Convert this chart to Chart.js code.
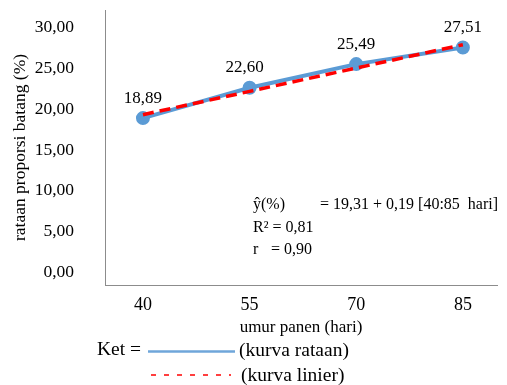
<!DOCTYPE html>
<html><head><meta charset="utf-8">
<script src="https://cdn.jsdelivr.net/npm/chart.js@4/dist/chart.umd.min.js"></script>
<style>html,body{margin:0;padding:0;background:#fff}#wrap{width:507px;height:385px}</style>
</head><body><div id="wrap"><canvas id="c" width="507" height="385"></canvas></div>
<script>
const categories = [40, 55, 70, 85];
const rataan = [18.89, 22.60, 25.49, 27.51];
const linier = [19.31, 22.16, 25.01, 27.86];
const rataanLabels = ["18,89", "22,60", "25,49", "27,51"];
const yTicks = [0, 5, 10, 15, 20, 25, 30];
const eqLines = ["ŷ(%)", "= 19,31 + 0,19 [40:85  hari]", "R² = 0,81", "r", "= 0,90"];
const legendTexts = ["Ket =", "(kurva rataan)", "(kurva linier)"];

const serif = "'Liberation Serif','Times New Roman',serif";
const fmt = v => v.toFixed(2).replace('.', ',');

const overlay = {
  id: 'overlay',
  afterDatasetsDraw(chart) {
    const ctx = chart.ctx;
    ctx.save();
    ctx.fillStyle = '#000';
    ctx.textBaseline = 'middle';
    ctx.font = '17px ' + serif;
    ctx.textAlign = 'center';
    const meta = chart.getDatasetMeta(0);
    const dx = [0, -5, 0, 0];
    meta.data.forEach((p, i) => {
      ctx.fillText(rataanLabels[i], p.x + dx[i], p.y - 20);
    });
    ctx.textAlign = 'left';
    ctx.font = '16px ' + serif;
    ctx.fillText(eqLines[0], 253, 205);
    ctx.fillText(eqLines[1], 320, 205);
    ctx.fillText(eqLines[2], 253, 228);
    ctx.fillText(eqLines[3], 253, 250);
    ctx.fillText(eqLines[4], 271, 250);
    ctx.font = '19.5px ' + serif;
    ctx.fillText(legendTexts[0], 97, 350);
    ctx.fillText(legendTexts[1], 239, 351);
    ctx.fillText(legendTexts[2], 241, 376);
    ctx.lineWidth = 2.5;
    ctx.strokeStyle = '#6FA6DA';
    ctx.setLineDash([]);
    ctx.beginPath(); ctx.moveTo(148, 351.5); ctx.lineTo(235, 351.5); ctx.stroke();
    ctx.lineWidth = 1.3;
    ctx.strokeStyle = '#FF0000';
    ctx.setLineDash([5, 8]);
    ctx.beginPath(); ctx.moveTo(151, 375); ctx.lineTo(231, 375); ctx.stroke();
    ctx.restore();
  }
};

const noPad = s => { s.paddingTop = 0; s.paddingBottom = 0; s.paddingLeft = 0; s.paddingRight = 0; };

new Chart(document.getElementById('c'), {
  type: 'line',
  data: {
    datasets: [
      {
        label: 'kurva rataan',
        data: categories.map((x, i) => ({x, y: rataan[i]})),
        borderColor: '#5B9BD5', backgroundColor: '#5B9BD5',
        borderWidth: 4, pointRadius: 5, pointHoverRadius: 5, tension: 0, order: 2
      },
      {
        label: 'kurva linier',
        data: categories.map((x, i) => ({x, y: linier[i]})),
        borderColor: '#FF0000', borderWidth: 3.5, borderDash: [11, 6],
        pointRadius: 0, tension: 0, order: 1
      }
    ]
  },
  options: {
    responsive: false, animation: false,
    layout: { padding: { left: 10, right: 10, top: 10, bottom: 47 } },
    plugins: { legend: { display: false }, tooltip: { enabled: false } },
    scales: {
      x: {
        type: 'linear', min: 34.66, max: 89.8,
        afterBuildTicks: s => { s.ticks = categories.map(v => ({value: v})); },
        afterFit: s => { s.height = 53; noPad(s); },
        grid: { display: false, drawTicks: false },
        border: { display: true, color: '#8c8c8c', width: 1 },
        ticks: { color: '#000', font: { family: serif, size: 18 }, padding: 9, autoSkip: false, maxRotation: 0 },
        title: { display: true, text: 'umur panen (hari)', color: '#000', font: { family: serif, size: 17 }, padding: 0 }
      },
      y: {
        type: 'linear', min: -1.5, max: 32.1,
        afterBuildTicks: s => { s.ticks = yTicks.map(v => ({value: v})); },
        afterFit: s => { s.width = 95; noPad(s); },
        grid: { display: false, drawTicks: false },
        border: { display: true, color: '#8c8c8c', width: 1 },
        ticks: { color: '#000', font: { family: serif, size: 17.5 }, padding: 31, callback: v => fmt(v) },
        title: { display: true, text: 'rataan proporsi batang (%)', color: '#000', font: { family: serif, size: 17.5 }, padding: 0 }
      }
    }
  },
  plugins: [overlay]
});
</script></body></html>
